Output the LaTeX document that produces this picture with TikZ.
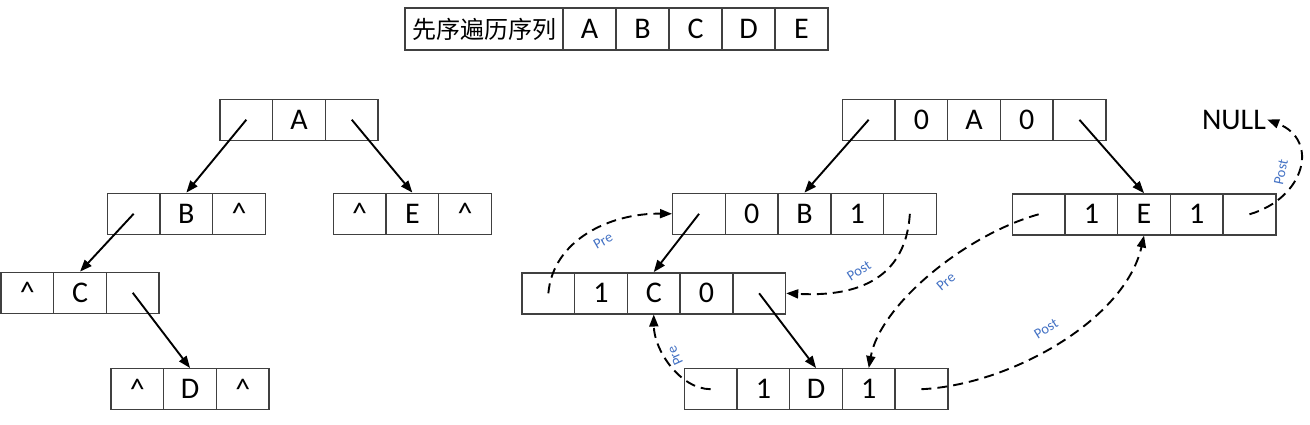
\documentclass[tikz,border=0pt]{standalone}
\usepackage{fontspec}
\setmainfont{Carlito}
\newfontfamily\cjk{Noto Sans CJK SC}
\usetikzlibrary{arrows.meta}
\definecolor{lblue}{HTML}{4472C4}
\definecolor{boxline}{HTML}{404040}
\begin{document}
\begin{tikzpicture}[x=1pt,y=-1pt,
  cell/.style={draw=boxline, line width=1.4pt, minimum width=52.7pt, minimum height=41pt, inner sep=0pt, font=\fontsize{30}{36}\selectfont},
  tcell/.style={cell, minimum width=53pt, minimum height=42pt},
  solidarrow/.style={line width=1.9pt, -{Triangle[length=12pt,width=9pt]}},
  dasharrow/.style={line width=1.9pt, dash pattern=on 10pt off 6pt, -{Triangle[length=12pt,width=9pt]}},
  lbl/.style={font=\fontsize{14.5}{17}\selectfont, text=lblue, inner sep=1pt}]
\useasboundingbox (0,0) rectangle (1310,424);

% top table
\node[cell, minimum width=158pt, minimum height=42pt, font=\cjk\fontsize{24}{28}\selectfont] (T0) at (484,29) {先序遍历序列};
\foreach \t [count=\i] in {A,B,C,D,E}
  \node[tcell] (T\i) at ({563+26.5+(\i-1)*53},29) {\t};

% left tree
\foreach \t [count=\i] in {{},A,{}}
  \node[cell] (LA\i) at ({220+26.35+(\i-1)*52.7},119.7) {\t};
\foreach \t [count=\i] in {{},B,\textasciicircum}
  \node[cell] (LB\i) at ({107.3+26.35+(\i-1)*52.7},213.8) {\t};
\foreach \t [count=\i] in {\textasciicircum,C,{}}
  \node[cell] (LC\i) at ({1+26.35+(\i-1)*52.7},292.8) {\t};
\foreach \t [count=\i] in {\textasciicircum,D,\textasciicircum}
  \node[cell] (LD\i) at ({111+26.35+(\i-1)*52.7},389.2) {\t};
\foreach \t [count=\i] in {\textasciicircum,E,\textasciicircum}
  \node[cell] (LE\i) at ({333.3+26.35+(\i-1)*52.7},213.8) {\t};

\draw[solidarrow] (LA1.center) -- (LB2.north);
\draw[solidarrow] (LA3.center) -- (LE2.north);
\draw[solidarrow] (LB1.center) -- (LC2.north);
\draw[solidarrow] (LC3.center) -- (LD2.north);

% right tree
\foreach \t [count=\i] in {{},0,A,0,{}}
  \node[cell] (RA\i) at ({842.3+26.35+(\i-1)*52.7},119.8) {\t};
\foreach \t [count=\i] in {{},0,B,1,{}}
  \node[cell] (RB\i) at ({672.7+26.35+(\i-1)*52.7},213.8) {\t};
\foreach \t [count=\i] in {{},1,C,0,{}}
  \node[cell] (RC\i) at ({522+26.35+(\i-1)*52.7},293.3) {\t};
\foreach \t [count=\i] in {{},1,D,1,{}}
  \node[cell] (RD\i) at ({684.3+26.35+(\i-1)*52.7},389.2) {\t};
\foreach \t [count=\i] in {{},1,E,1,{}}
  \node[cell] (RE\i) at ({1012.3+26.35+(\i-1)*52.7},214.3) {\t};

\node[font=\fontsize{30}{36}\selectfont, inner sep=1pt] (NULL) at (1234,119.5) {NULL};

\draw[solidarrow] (RA1.center) -- (RB3.north);
\draw[solidarrow] (RA5.center) -- (RE3.north);
\draw[solidarrow] (RB1.center) -- (RC3.north);
\draw[solidarrow] (RC5.center) -- (RD3.north);

% threads
\draw[dasharrow] (RC1.center) .. controls (553,240) and (610,213) .. (RB1.west);
\draw[dasharrow] (RB5.center) .. controls (905,290) and (840,296) .. (RC5.east);
\draw[dasharrow] (RD1.center) .. controls (680,389) and (654,350) .. (RC3.south);
\draw[dasharrow] (RE1.center) .. controls (965,235) and (880,305) .. (RD4.north);
\draw[dasharrow] (RD5.center) .. controls (1010,385) and (1125,320) .. (RE3.south);
\draw[dasharrow] (RE5.center) .. controls (1305,198) and (1320,140) .. (NULL.east);

\node[lbl, rotate=30] (l1) at (603,241) {Pre};
\node[lbl, rotate=33] (l2) at (859,271) {Post};
\node[lbl, rotate=115] (l3) at (675,356) {Pre};
\node[lbl, rotate=40] (l4) at (946,282) {Pre};
\node[lbl, rotate=32] (l5) at (1046,329) {Post};
\node[lbl, rotate=78] (l6) at (1281,172) {Post};
\end{tikzpicture}
\end{document}
